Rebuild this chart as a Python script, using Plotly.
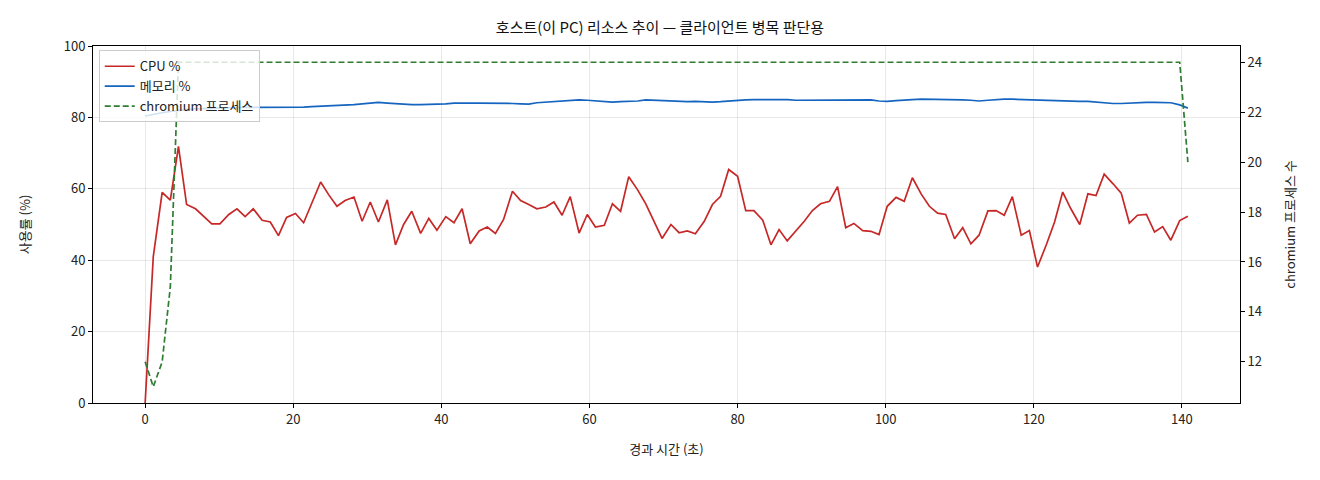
import plotly.graph_objects as go

# 경과 시간 (초)
elapsed = [0.0, 1.1, 2.3, 3.4, 4.5, 5.6, 6.8, 7.9, 9.0, 10.1, 11.3, 12.4, 13.5, 14.6, 15.8, 16.9,
           18.0, 19.1, 20.3, 21.4, 22.5, 23.7, 24.8, 25.9, 27.0, 28.2, 29.3, 30.4, 31.5, 32.7, 33.8,
           34.9, 36.0, 37.2, 38.3, 39.4, 40.6, 41.7, 42.8, 43.9, 45.1, 46.2, 47.3, 48.4, 49.6, 50.7,
           51.8, 52.9, 54.1, 55.2, 56.3, 57.4, 58.6, 59.7, 60.8, 62.0, 63.1, 64.2, 65.3, 66.5, 67.6,
           68.7, 69.8, 71.0, 72.1, 73.2, 74.3, 75.5, 76.6, 77.7, 78.8, 80.0, 81.1, 82.2, 83.4, 84.5,
           85.6, 86.7, 87.9, 89.0, 90.1, 91.2, 92.4, 93.5, 94.6, 95.7, 96.9, 98.0, 99.1, 100.2, 101.4,
           102.5, 103.6, 104.8, 105.9, 107.0, 108.1, 109.3, 110.4, 111.5, 112.6, 113.8, 114.9, 116.0,
           117.1, 118.3, 119.4, 120.5, 121.7, 122.8, 123.9, 125.0, 126.2, 127.3, 128.4, 129.5, 130.7,
           131.8, 132.9, 134.0, 135.2, 136.3, 137.4, 138.5, 139.7, 140.8]

cpu = [0, 41, 59.0, 56.8, 71.9, 55.6, 54.4, 52.3, 50.2, 50.2, 52.8, 54.4, 52.2, 54.4, 51.2, 50.7,
       46.9, 52.0, 53.1, 50.5, 56.0, 61.9, 58.3, 55.1, 56.7, 57.7, 50.9, 56.3, 50.7, 56.9, 44.3,
       50.0, 53.7, 47.5, 51.7, 48.4, 52.2, 50.5, 54.4, 44.6, 48.2, 49.3, 47.5, 51.4, 59.3, 56.7,
       55.6, 54.4, 54.9, 56.3, 52.6, 57.8, 47.6, 52.8, 49.3, 49.8, 55.8, 53.7, 63.4, 59.7, 55.8,
       50.9, 46.1, 50.0, 47.7, 48.2, 47.4, 50.9, 55.6, 57.9, 65.4, 63.5, 53.9, 53.9, 51.2, 44.3,
       48.6, 45.4, 48.3, 50.9, 53.9, 55.8, 56.5, 60.6, 49.1, 50.3, 48.3, 48.1, 47.2, 55.1, 57.6,
       56.5, 63.1, 58.5, 55.1, 53.2, 52.8, 46.0, 49.1, 44.6, 47.0, 53.8, 53.9, 52.6, 57.8, 47.0,
       48.3, 38.1, 44.4, 50.7, 59.1, 54.4, 50.0, 58.6, 58.1, 64.1, 61.4, 58.8, 50.4, 52.6, 52.8,
       47.9, 49.4, 45.6, 51.1, 52.3]

mem = [80.4, 80.9, 81.3, 81.7, 82.0, 82.2, 82.4, 82.5, 82.6, 82.7, 82.7, 82.8, 82.8, 82.8, 82.8,
       82.7, 82.8, 82.8, 82.8, 82.9, 83.0, 83.1, 83.2, 83.3, 83.5, 83.6, 83.8, 83.9, 84.2, 84.0,
       83.8, 83.7, 83.6, 83.6, 83.6, 83.7, 83.8, 84.0, 84.1, 84.0, 84.0, 84.0, 84.1, 84.0, 83.9,
       83.8, 83.7, 84.1, 84.3, 84.5, 84.7, 84.8, 84.9, 84.8, 84.6, 84.4, 84.3, 84.4, 84.4, 84.6,
       84.9, 84.8, 84.7, 84.5, 84.3, 84.4, 84.5, 84.3, 84.3, 84.4, 84.6, 84.8, 84.9, 85.0, 85.0,
       85.1, 85.1, 85.0, 84.8, 84.8, 84.9, 85.0, 85.0, 84.9, 84.9, 84.9, 85.0, 84.9, 84.6, 84.5,
       84.7, 84.9, 85.0, 85.1, 85.1, 85.0, 85.0, 85.0, 84.9, 84.8, 84.6, 84.8, 85.0, 85.1, 85.1,
       85.0, 85.0, 85.0, 84.9, 84.8, 84.7, 84.6, 84.5, 84.5, 84.3, 84.1, 83.9, 83.9, 84.0, 84.2,
       84.2, 84.2, 84.2, 84.1, 83.5, 82.6]

chromium = [12, 11, 12, 15] + [24] * 121 + [20]

x_ticks = [0, 20, 40, 60, 80, 100, 120, 140]
left_ticks = [0, 20, 40, 60, 80, 100]
right_ticks = [12, 14, 16, 18, 20, 22, 24]

FONT = "Noto Sans CJK KR"

fig = go.Figure()
fig.add_trace(go.Scatter(x=elapsed, y=cpu, mode="lines", name="CPU %",
                         line=dict(color="#c62828", width=1.7)))
fig.add_trace(go.Scatter(x=elapsed, y=mem, mode="lines", name="메모리 %",
                         line=dict(color="#1565c0", width=1.7)))
fig.add_trace(go.Scatter(x=elapsed, y=chromium, mode="lines", name="chromium 프로세스",
                         yaxis="y2", line=dict(color="#2e7d32", width=1.7, dash="6px,3px")))

axis_common = dict(showline=True, linecolor="black", linewidth=1, ticks="outside",
                   ticklen=4, tickcolor="black", tickfont=dict(size=13, color="#222"),
                   zeroline=False)

fig.update_layout(
    width=1304, height=464,
    margin=dict(l=85, r=72, t=38, b=69),
    paper_bgcolor="white", plot_bgcolor="white",
    font=dict(family=FONT, color="#222"),
    title=dict(text="호스트(이 PC) 리소스 추이 — 클라이언트 병목 판단용", x=0.5, xanchor="center",
               y=0.957, yanchor="middle", font=dict(size=15, color="#111")),
    xaxis=dict(range=[-7.04, 147.84], tickvals=x_ticks, mirror=True,
               showgrid=True, gridcolor="rgba(0,0,0,0.09)",
               title=dict(text="경과 시간 (초)", font=dict(size=13), standoff=18),
               **axis_common),
    yaxis=dict(range=[0, 100], tickvals=left_ticks, showgrid=True,
               gridcolor="rgba(0,0,0,0.09)",
               title=dict(text="사용률 (%)", font=dict(size=13), standoff=30),
               **axis_common),
    yaxis2=dict(range=[10.35, 24.65], tickvals=right_ticks, overlaying="y", side="right",
                showgrid=False,
                title=dict(text="chromium 프로세스 수", font=dict(size=13), standoff=24),
                **axis_common),
    legend=dict(x=0.005, y=0.988, xanchor="left", yanchor="top",
                bgcolor="rgba(255,255,255,0.8)", bordercolor="#cccccc", borderwidth=1,
                font=dict(size=13, color="#222"), itemwidth=30),
    showlegend=True,
)

fig.write_html("out.html")
